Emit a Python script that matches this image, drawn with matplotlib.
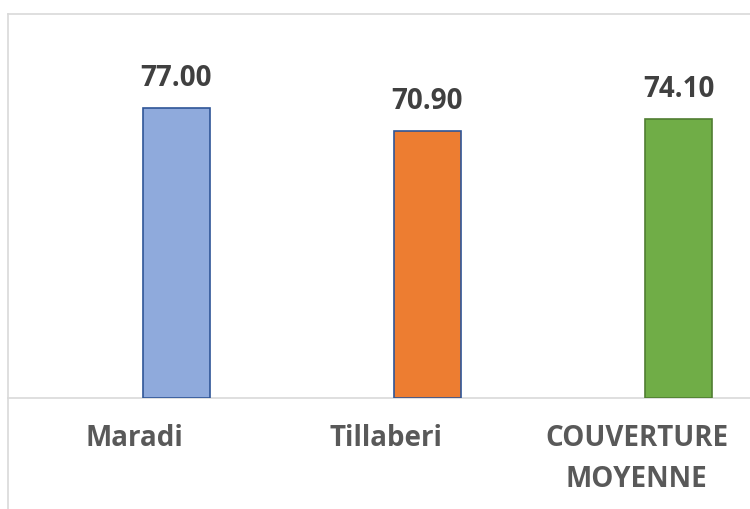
import matplotlib.pyplot as plt
from matplotlib.lines import Line2D

# data
categories = ["Maradi", "Tillaberi", "COUVERTURE\nMOYENNE"]
values = [77.00, 70.90, 74.10]
fill_colors = ["#8FAADC", "#ED7D31", "#70AD47"]
edge_colors = ["#2F5597", "#2F5597", "#507E32"]

plt.rcParams['font.family'] = ['Open Sans', 'DejaVu Sans']

fig = plt.figure(figsize=(7.5, 5.09), dpi=100)
W, H = 750, 509
# plot area: left edge at the chart frame, baseline at y=398, top at frame y=14
ax = fig.add_axes([8 / W, (H - 398) / H, (750 - 8) / W, (398 - 14) / H])

x = list(range(len(categories)))
# bars sit right of the category centre (as in the source chart)
bar_offset = 0.167
bars = ax.bar([i + bar_offset for i in x], values, width=0.267, color=fill_colors,
              edgecolor=edge_colors, linewidth=1.2, zorder=3)

for rect, v in zip(bars, values):
    ax.annotate(f"{v:.2f}", (rect.get_x() + rect.get_width() / 2, v),
                xytext=(0, 11), textcoords="offset points",
                ha="center", va="bottom", fontsize=20, fontweight="bold",
                color="#404040")

ax.set_xlim(-0.504, 2.452)
ax.set_ylim(0, 102)
ax.set_yticks([])
ax.set_xticks(x)
ax.set_xticklabels(categories, fontsize=20, fontweight="bold", color="#595959",
                   linespacing=1.55)
ax.tick_params(axis="x", length=0, pad=19)

for s in ["top", "right", "left"]:
    ax.spines[s].set_visible(False)
ax.spines["bottom"].set_color("#D9D9D9")
ax.spines["bottom"].set_linewidth(1.2)

# outer chart frame (cut off on right and bottom)
fig.add_artist(Line2D([8 / W, 8 / W], [0, (H - 14) / H], color="#D9D9D9", lw=1.2))
fig.add_artist(Line2D([8 / W, 1], [(H - 14) / H, (H - 14) / H], color="#D9D9D9", lw=1.2))

fig.savefig("out.png", dpi=100)
